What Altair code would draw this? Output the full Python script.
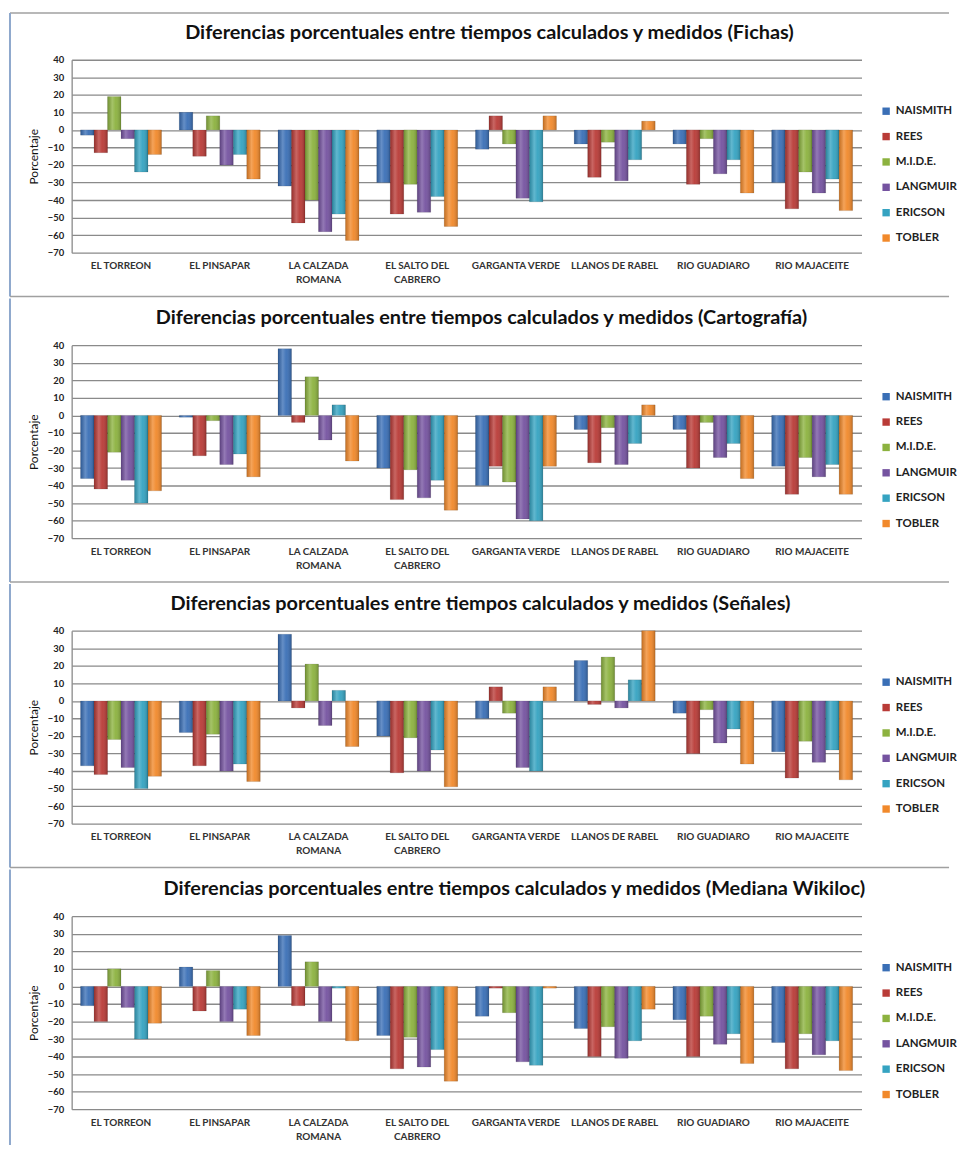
import altair as alt
import pandas as pd

categories = ["EL TORREON", "EL PINSAPAR", "LA CALZADA ROMANA", "EL SALTO DEL CABRERO",
              "GARGANTA VERDE", "LLANOS DE RABEL", "RIO GUADIARO", "RIO MAJACEITE"]
methods = ["NAISMITH", "REES", "M.I.D.E.", "LANGMUIR", "ERICSON", "TOBLER"]
colors = ["#3A6FB6", "#B93B37", "#8CB23F", "#7553A0", "#35A3C1", "#F1892B"]
y_ticks = [-70, -60, -50, -40, -30, -20, -10, 0, 10, 20, 30, 40]

titles = [
    "Diferencias porcentuales entre tiempos calculados y medidos (Fichas)",
    "Diferencias porcentuales entre tiempos calculados y medidos (Cartografía)",
    "Diferencias porcentuales entre tiempos calculados y medidos (Señales)",
    "Diferencias porcentuales entre tiempos calculados y medidos (Mediana Wikiloc)",
]
title_dx = [23, 15, 14, 48]

# Panel 1: Fichas
fichas_naismith = [-3, 10, -32, -30, -11, -8, -8, -30]
fichas_rees = [-13, -15, -53, -48, 8, -27, -31, -45]
fichas_mide = [19, 8, -40, -31, -8, -7, -5, -24]
fichas_langmuir = [-5, -20, -58, -47, -39, -29, -25, -36]
fichas_ericson = [-24, -14, -48, -38, -41, -17, -17, -28]
fichas_tobler = [-14, -28, -63, -55, 8, 5, -36, -46]

# Panel 2: Cartografía
carto_naismith = [-36, -1, 38, -30, -40, -8, -8, -29]
carto_rees = [-42, -23, -4, -48, -29, -27, -30, -45]
carto_mide = [-21, -3, 22, -31, -38, -7, -4, -24]
carto_langmuir = [-37, -28, -14, -47, -59, -28, -24, -35]
carto_ericson = [-50, -22, 6, -37, -60, -16, -16, -28]
carto_tobler = [-43, -35, -26, -54, -29, 6, -36, -45]

# Panel 3: Señales
senal_naismith = [-37, -18, 38, -20, -10, 23, -7, -29]
senal_rees = [-42, -37, -4, -41, 8, -2, -30, -44]
senal_mide = [-22, -19, 21, -21, -7, 25, -5, -23]
senal_langmuir = [-38, -40, -14, -40, -38, -4, -24, -35]
senal_ericson = [-50, -36, 6, -28, -40, 12, -16, -28]
senal_tobler = [-43, -46, -26, -49, 8, 40, -36, -45]

# Panel 4: Mediana Wikiloc
wiki_naismith = [-11, 11, 29, -28, -17, -24, -19, -32]
wiki_rees = [-20, -14, -11, -47, -1, -40, -40, -47]
wiki_mide = [10, 9, 14, -29, -15, -23, -17, -27]
wiki_langmuir = [-12, -20, -20, -46, -43, -41, -33, -39]
wiki_ericson = [-30, -13, -1, -36, -45, -31, -27, -31]
wiki_tobler = [-21, -28, -31, -54, -1, -13, -44, -48]

panels = [
    [fichas_naismith, fichas_rees, fichas_mide, fichas_langmuir, fichas_ericson, fichas_tobler],
    [carto_naismith, carto_rees, carto_mide, carto_langmuir, carto_ericson, carto_tobler],
    [senal_naismith, senal_rees, senal_mide, senal_langmuir, senal_ericson, senal_tobler],
    [wiki_naismith, wiki_rees, wiki_mide, wiki_langmuir, wiki_ericson, wiki_tobler],
]

FONT = "Lato"
label_expr = ("datum.label == 'LA CALZADA ROMANA' ? ['LA CALZADA', 'ROMANA'] : "
              "datum.label == 'EL SALTO DEL CABRERO' ? ['EL SALTO DEL', 'CABRERO'] : datum.label")

W, H = 794, 194
FRAME_TOP = -47
FRAME_BOTTOM = 238
FRAME_LEFT = -62
FRAME_RIGHT = 882

shade = alt.LinearGradient(
    gradient="linear", x1=0, x2=1, y1=0, y2=0,
    stops=[alt.GradientStop(color="rgba(0,0,0,0.18)", offset=0),
           alt.GradientStop(color="rgba(255,255,255,0.22)", offset=0.35),
           alt.GradientStop(color="rgba(255,255,255,0.05)", offset=0.6),
           alt.GradientStop(color="rgba(0,0,0,0.22)", offset=1)])


def panel(idx, title, series):
    rows = []
    for m, vals in zip(methods, series):
        for c, v in zip(categories, vals):
            rows.append({"cat": c, "method": m, "value": v})
    df = pd.DataFrame(rows)
    base = alt.Chart(df).encode(
        x=alt.X("cat:N", sort=categories,
                scale=alt.Scale(paddingInner=0.18, paddingOuter=0.09),
                axis=alt.Axis(title=None, labelAngle=0, labelExpr=label_expr, ticks=False,
                              domain=False, labelFont=FONT, labelFontWeight="bold",
                              labelFontSize=10, labelColor="#333", labelPadding=8,
                              labelLineHeight=14)),
        xOffset=alt.XOffset("method:N", sort=methods, scale=alt.Scale(paddingInner=0)),
        y=alt.Y("value:Q", scale=alt.Scale(domain=[-70, 40], nice=False, zero=False),
                axis=alt.Axis(values=y_ticks, title="Porcentaje", titleFont=FONT,
                              titleFontWeight="normal", titleFontSize=12, titleColor="#111",
                              titlePadding=7, labelFont=FONT, labelFontWeight="bold",
                              labelFontSize=9.5, labelColor="#222", ticks=False,
                              labelPadding=8, labelOverlap=False, gridColor="#8a8a8a",
                              gridWidth=1.3, domainColor="#8a8a8a", domainWidth=1.3)),
    )
    bars = base.mark_bar(stroke="#00000030", strokeWidth=0.6).encode(
        color=alt.Color("method:N", sort=methods,
                        scale=alt.Scale(domain=methods, range=colors),
                        legend=alt.Legend(title=None, orient="none", legendX=813, legendY=46,
                                          symbolType="square", symbolSize=55,
                                          symbolStrokeWidth=0, labelFont=FONT,
                                          labelFontWeight="bold", labelFontSize=11.5,
                                          labelColor="#222", rowPadding=12.5, padding=0)),
    )
    gloss = base.mark_bar(fill=shade, strokeWidth=0)
    one = pd.DataFrame({"t": [title]})
    title_mark = alt.Chart(one).mark_text(
        font=FONT, fontSize=20, fontWeight="bold", color="#111", align="center",
        baseline="alphabetic").encode(
        text="t:N", x=alt.value(W / 2 + title_dx[idx]), y=alt.value(-21))
    # panel frame (decoration)
    top_line = alt.Chart(one).mark_rule(
        color="#a0a0a0", strokeWidth=1.5, opacity=1 if idx == 0 else 0).encode(
        x=alt.value(FRAME_LEFT), x2=alt.value(FRAME_RIGHT), y=alt.value(FRAME_TOP))
    left_line = alt.Chart(one).mark_rule(
        color="#8ea8cc", strokeWidth=2).encode(
        x=alt.value(FRAME_LEFT), y=alt.value(FRAME_TOP),
        y2=alt.value(FRAME_BOTTOM if idx < 3 else 230))
    layers = [bars, gloss, title_mark, top_line, left_line]
    if idx < 3:
        bottom_line = alt.Chart(one).mark_rule(
            color="#a0a0a0", strokeWidth=1.5).encode(
            x=alt.value(FRAME_LEFT), x2=alt.value(FRAME_RIGHT), y=alt.value(FRAME_BOTTOM))
        layers.append(bottom_line)
    return alt.layer(*layers).properties(width=W, height=H)


chart = alt.vconcat(*[panel(i, t, s) for i, (t, s) in enumerate(zip(titles, panels))],
                    spacing=0).resolve_scale(
    color="independent"
).properties(padding={"left": 1, "top": 1, "right": 0, "bottom": 0}).configure_view(stroke=None)

chart.save("out.html", embed_options={"renderer": "svg", "actions": False})
